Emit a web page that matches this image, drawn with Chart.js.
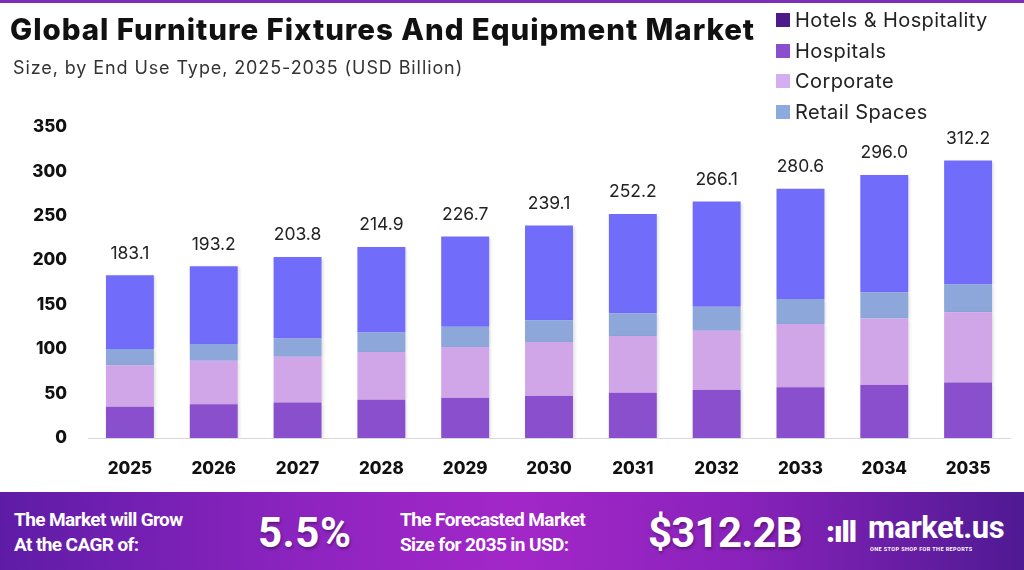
<!DOCTYPE html>
<html>
<head>
<meta charset="utf-8">
<script src="https://cdn.jsdelivr.net/npm/chart.js@4.4.1/dist/chart.umd.min.js"></script>
<style>
  html, body { margin:0; padding:0; background:#fff; }
  #wrap { position:relative; width:1024px; height:570px; overflow:hidden; font-family:Inter, "Open Sans", sans-serif; }
  #topline { position:absolute; left:0; top:0; width:1024px; height:3px; background:#7d2fb8; }
  #c { position:absolute; left:0; top:0; }
  #title { position:absolute; left:10px; top:11px; font-weight:800; font-size:29.5px; color:#111; letter-spacing:0.95px; white-space:nowrap; }
  #subtitle { position:absolute; left:13px; top:57px; font-size:18px; color:#333; letter-spacing:0.9px; white-space:nowrap; }
  #legend { position:absolute; left:776px; top:5px; }
  .lg { height:30.5px; display:flex; align-items:center; font-size:20px; letter-spacing:0.4px; color:#222; white-space:nowrap; }
  .sw { width:14px; height:14px; margin-right:5px; }
  #footer { position:absolute; left:0; top:492px; width:1024px; height:78px;
    background:linear-gradient(90deg,#5e1ca6 0%,#8e24c0 30%,#a327c8 50%,#8a22bb 72%,#4f1a93 100%); color:#fff; }
  .ft { position:absolute; font-family:Roboto, sans-serif; font-weight:700; font-size:19px; line-height:25px; letter-spacing:-0.6px; white-space:nowrap; }
  .big { position:absolute; font-family:Roboto, sans-serif; font-weight:700; font-size:42px; white-space:nowrap; top:16px; text-shadow:1px 2px 3px rgba(0,0,0,0.35); }
</style>
</head>
<body>
<div id="wrap">
  <canvas id="c" width="1024" height="490"></canvas>
  <div id="topline"></div>
  <div id="title">Global Furniture Fixtures And Equipment Market</div>
  <div id="subtitle">Size, by End Use Type, 2025-2035 (USD Billion)</div>
  <div id="legend"></div>
  <div id="footer">
    <div class="ft" style="left:14px;top:15px;">The Market will Grow<br>At the CAGR of:</div>
    <div class="big" style="left:258px;letter-spacing:0.5px;">5.5%</div>
    <div class="ft" style="left:400px;top:15px;">The Forecasted Market<br>Size for 2035 in USD:</div>
    <div class="big" style="left:648px;letter-spacing:-0.8px;">$312.2B</div>
    <div style="position:absolute;left:826px;top:22px;font-family:Roboto,sans-serif;font-weight:900;font-size:30px;letter-spacing:-1px;">:ıll</div>
    <div style="position:absolute;left:868px;top:17px;font-family:Roboto,sans-serif;font-weight:700;font-size:31px;letter-spacing:-0.5px;">market.us</div>
    <div style="position:absolute;left:870px;top:54px;font-family:Roboto,sans-serif;font-weight:700;font-size:5.5px;letter-spacing:0.4px;">ONE STOP SHOP FOR THE REPORTS</div>
  </div>
</div>
<script>
const years = ['2025','2026','2027','2028','2029','2030','2031','2032','2033','2034','2035'];
const totals = [183.1, 193.2, 203.8, 214.9, 226.7, 239.1, 252.2, 266.1, 280.6, 296.0, 312.2];
const hospitals = [35.3, 38.0, 39.9, 43.1, 44.9, 47.2, 51.0, 54.0, 57.0, 59.6, 62.4];
const corporate = [46.7, 48.9, 51.5, 53.7, 57.6, 60.9, 63.7, 66.7, 71.2, 75.0, 79.0];
const retail = [18.1, 18.9, 20.7, 21.9, 22.6, 24.5, 25.6, 27.0, 28.2, 29.3, 31.3];
const hotels = [83.0, 87.4, 91.7, 96.2, 101.6, 106.5, 111.9, 118.4, 124.2, 132.1, 139.5];
const yTicks = [0, 50, 100, 150, 200, 250, 300, 350];

const legendItems = [
  ['Hotels & Hospitality', '#4d1a8c'],
  ['Hospitals', '#8a4fcc'],
  ['Corporate', '#d4aef0'],
  ['Retail Spaces', '#8caadc']
];
const lg = document.getElementById('legend');
legendItems.forEach(([t, c]) => {
  const d = document.createElement('div'); d.className = 'lg';
  d.innerHTML = '<div class="sw" style="background:' + c + '"></div><span>' + t + '</span>';
  lg.appendChild(d);
});

const totalsPlugin = {
  id: 'totals',
  beforeDatasetsDraw(chart) {
    const ctx = chart.ctx; ctx.save();
    ctx.shadowColor = 'rgba(0,0,0,0.13)'; ctx.shadowBlur = 3; ctx.shadowOffsetX = 2; ctx.shadowOffsetY = 1;
  },
  afterDatasetsDraw(chart) {
    const ctx = chart.ctx; ctx.restore();
    ctx.save();
    const meta = chart.getDatasetMeta(0);
    const y = chart.scales.y;
    ctx.font = '17.5px Inter, "Open Sans", sans-serif';
    ctx.fillStyle = '#222'; ctx.textAlign = 'center'; ctx.textBaseline = 'middle';
    totals.forEach((t, i) => {
      const x = meta.data[i].x;
      const top = y.getPixelForValue(hospitals[i] + corporate[i] + retail[i] + hotels[i]);
      ctx.fillText(t.toFixed(1), x, top - 22);
    });
    ctx.restore();
  }
};

const ds = (label, data, color) => ({ label, data, backgroundColor: color, borderWidth: 0, categoryPercentage: 1, barPercentage: 0.572 });

new Chart(document.getElementById('c'), {
  type: 'bar',
  data: {
    labels: years,
    datasets: [
      ds('Hospitals', hospitals, '#8a4fcc'),
      ds('Corporate', corporate, '#d1a6e9'),
      ds('Retail Spaces', retail, '#8da7da'),
      ds('Hotels & Hospitality', hotels, '#726cfb')
    ]
  },
  options: {
    responsive: false,
    animation: false,
    devicePixelRatio: 1,
    layout: { padding: { top: 127, right: 14, left: 0, bottom: 0 } },
    plugins: { legend: { display: false }, tooltip: { enabled: false } },
    scales: {
      x: {
        stacked: true,
        grid: { display: false },
        border: { display: true, color: '#d8d8d8', width: 1 },
        ticks: { color: '#111', font: { family: 'Inter', weight: 800, size: 17 }, padding: 13 },
        afterFit(s) { s.height = 52; }
      },
      y: {
        stacked: true,
        min: 0, max: 350,
        afterBuildTicks(s) { s.ticks = yTicks.map(v => ({ value: v })); },
        grid: { display: false },
        border: { display: false },
        ticks: { color: '#111', font: { family: 'Inter', weight: 800, size: 17 }, padding: 13 },
        afterFit(s) { s.width = 88; }
      }
    }
  },
  plugins: [totalsPlugin]
});
</script>
</body>
</html>
